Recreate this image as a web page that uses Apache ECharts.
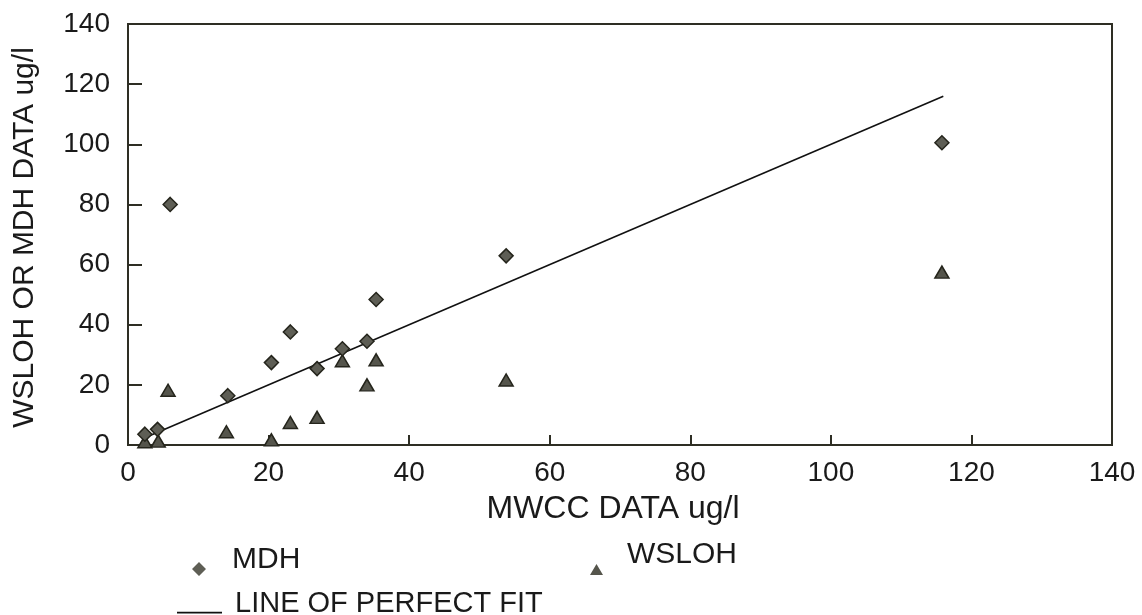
<!DOCTYPE html>
<html>
<head>
<meta charset="utf-8">
<script src="https://cdn.jsdelivr.net/npm/echarts@6/dist/echarts.min.js"></script>
<style>
  html, body { margin: 0; padding: 0; background: #fff; }
  #chart { width: 1142px; height: 615px; }
</style>
</head>
<body>
<div id="chart"></div>
<script>
// MWCC (x) vs MDH / WSLOH (y), ug/l
const mdhX = [2.4, 4.2, 6, 14.2, 20.4, 23.1, 26.9, 30.5, 34, 35.3, 53.8, 115.8];
const mdhY = [3.6, 5.2, 80, 16.4, 27.4, 37.6, 25.4, 32, 34.5, 48.4, 62.9, 100.5];
const wslohX = [2.4, 4.3, 5.7, 14, 20.4, 23.1, 26.9, 30.5, 34, 35.3, 53.8, 115.8];
const wslohY = [1.1, 1.3, 18.2, 4.4, 1.7, 7.5, 9.2, 28, 20, 28.3, 21.6, 57.5];
const fitX = [2.4, 116];
const axisTicks = [0, 20, 40, 60, 80, 100, 120, 140];

const font = "'Liberation Sans', Arial, sans-serif";
const ink = "#2e2e24";
const txt = "#1a1a1a";

const chart = echarts.init(document.getElementById("chart"));

const pairs = (xs, ys) => xs.map((x, i) => [x, ys[i]]);

// legend marks sit low, like subscripts next to the text
chart.setOption({
  animation: false,
  grid: {
    left: 128, top: 24, right: 30, bottom: 170,
    show: true, borderColor: ink, borderWidth: 2
  },
  xAxis: {
    type: "value",
    min: axisTicks[0], max: axisTicks[axisTicks.length - 1], interval: 20,
    name: "MWCC DATA ug/l",
    nameLocation: "middle",
    nameGap: 48,
    nameTextStyle: { fontFamily: font, fontSize: 32, color: txt, padding: [0, 14, 0, 0] },
    axisLine: { lineStyle: { color: ink, width: 2 } },
    axisTick: { inside: true, length: 10, lineStyle: { color: ink, width: 2 } },
    axisLabel: { fontFamily: font, fontSize: 28, color: txt, margin: 14 },
    splitLine: { show: false }
  },
  yAxis: {
    type: "value",
    min: 0, max: 140, interval: 20,
    name: "WSLOH OR MDH DATA ug/l",
    nameLocation: "middle",
    nameGap: 88,
    nameTextStyle: { fontFamily: font, fontSize: 30, color: txt, padding: [0, 6, 0, 0] },
    axisLine: { lineStyle: { color: ink, width: 2 } },
    axisTick: { inside: true, length: 14, lineStyle: { color: ink, width: 2 } },
    axisLabel: { fontFamily: font, fontSize: 28, color: txt, margin: 18 },
    splitLine: { show: false }
  },
  legend: [
    {
      data: [{ name: "MDH", icon: "path://M7,0 L7,0.1 M7,19 L14,26 L7,33 L0,26 Z" }],
      left: 192, top: 543, padding: 0, itemWidth: 14, itemHeight: 33,
      itemStyle: { borderWidth: 0 },
      textStyle: { fontFamily: font, fontSize: 30, color: txt, padding: [0, 0, 0, 21] }
    },
    {
      data: [{ name: "WSLOH", icon: "path://M6.5,0 L6.5,0.1 M6.5,29 L13,40 L0,40 Z" }],
      left: 590, top: 535, padding: 0, itemWidth: 13, itemHeight: 40,
      itemStyle: { borderWidth: 0 },
      textStyle: { fontFamily: font, fontSize: 30, color: txt, padding: [0, 0, 0, 19] }
    },
    {
      data: [{ name: "LINE OF PERFECT FIT", icon: "path://M0,0 L0.1,0 M0,18.2 L45,18.2 L45,19.8 L0,19.8 Z" }],
      left: 177, top: 589, padding: 0, itemWidth: 45, itemHeight: 20,
      itemStyle: { borderWidth: 0 },
      textStyle: { fontFamily: font, fontSize: 29, color: txt, padding: [0, 0, 0, 8] }
    }
  ],
  series: [
    {
      name: "LINE OF PERFECT FIT",
      type: "line",
      data: pairs(fitX, fitX),
      showSymbol: false,
      lineStyle: { color: "#111", width: 1.6 },
      itemStyle: { color: "#111" },
      z: 1
    },
    {
      name: "MDH",
      type: "scatter",
      data: pairs(mdhX, mdhY),
      symbol: "diamond",
      symbolSize: [14, 14],
      itemStyle: { color: "#5e5e55", borderColor: "#25251c", borderWidth: 1.5, opacity: 1 },
      z: 3
    },
    {
      name: "WSLOH",
      type: "scatter",
      data: pairs(wslohX, wslohY),
      symbol: "triangle",
      symbolSize: [14, 12],
      itemStyle: { color: "#55554c", borderColor: "#25251c", borderWidth: 1.5, opacity: 1 },
      z: 2
    }
  ]
});
</script>
</body>
</html>
